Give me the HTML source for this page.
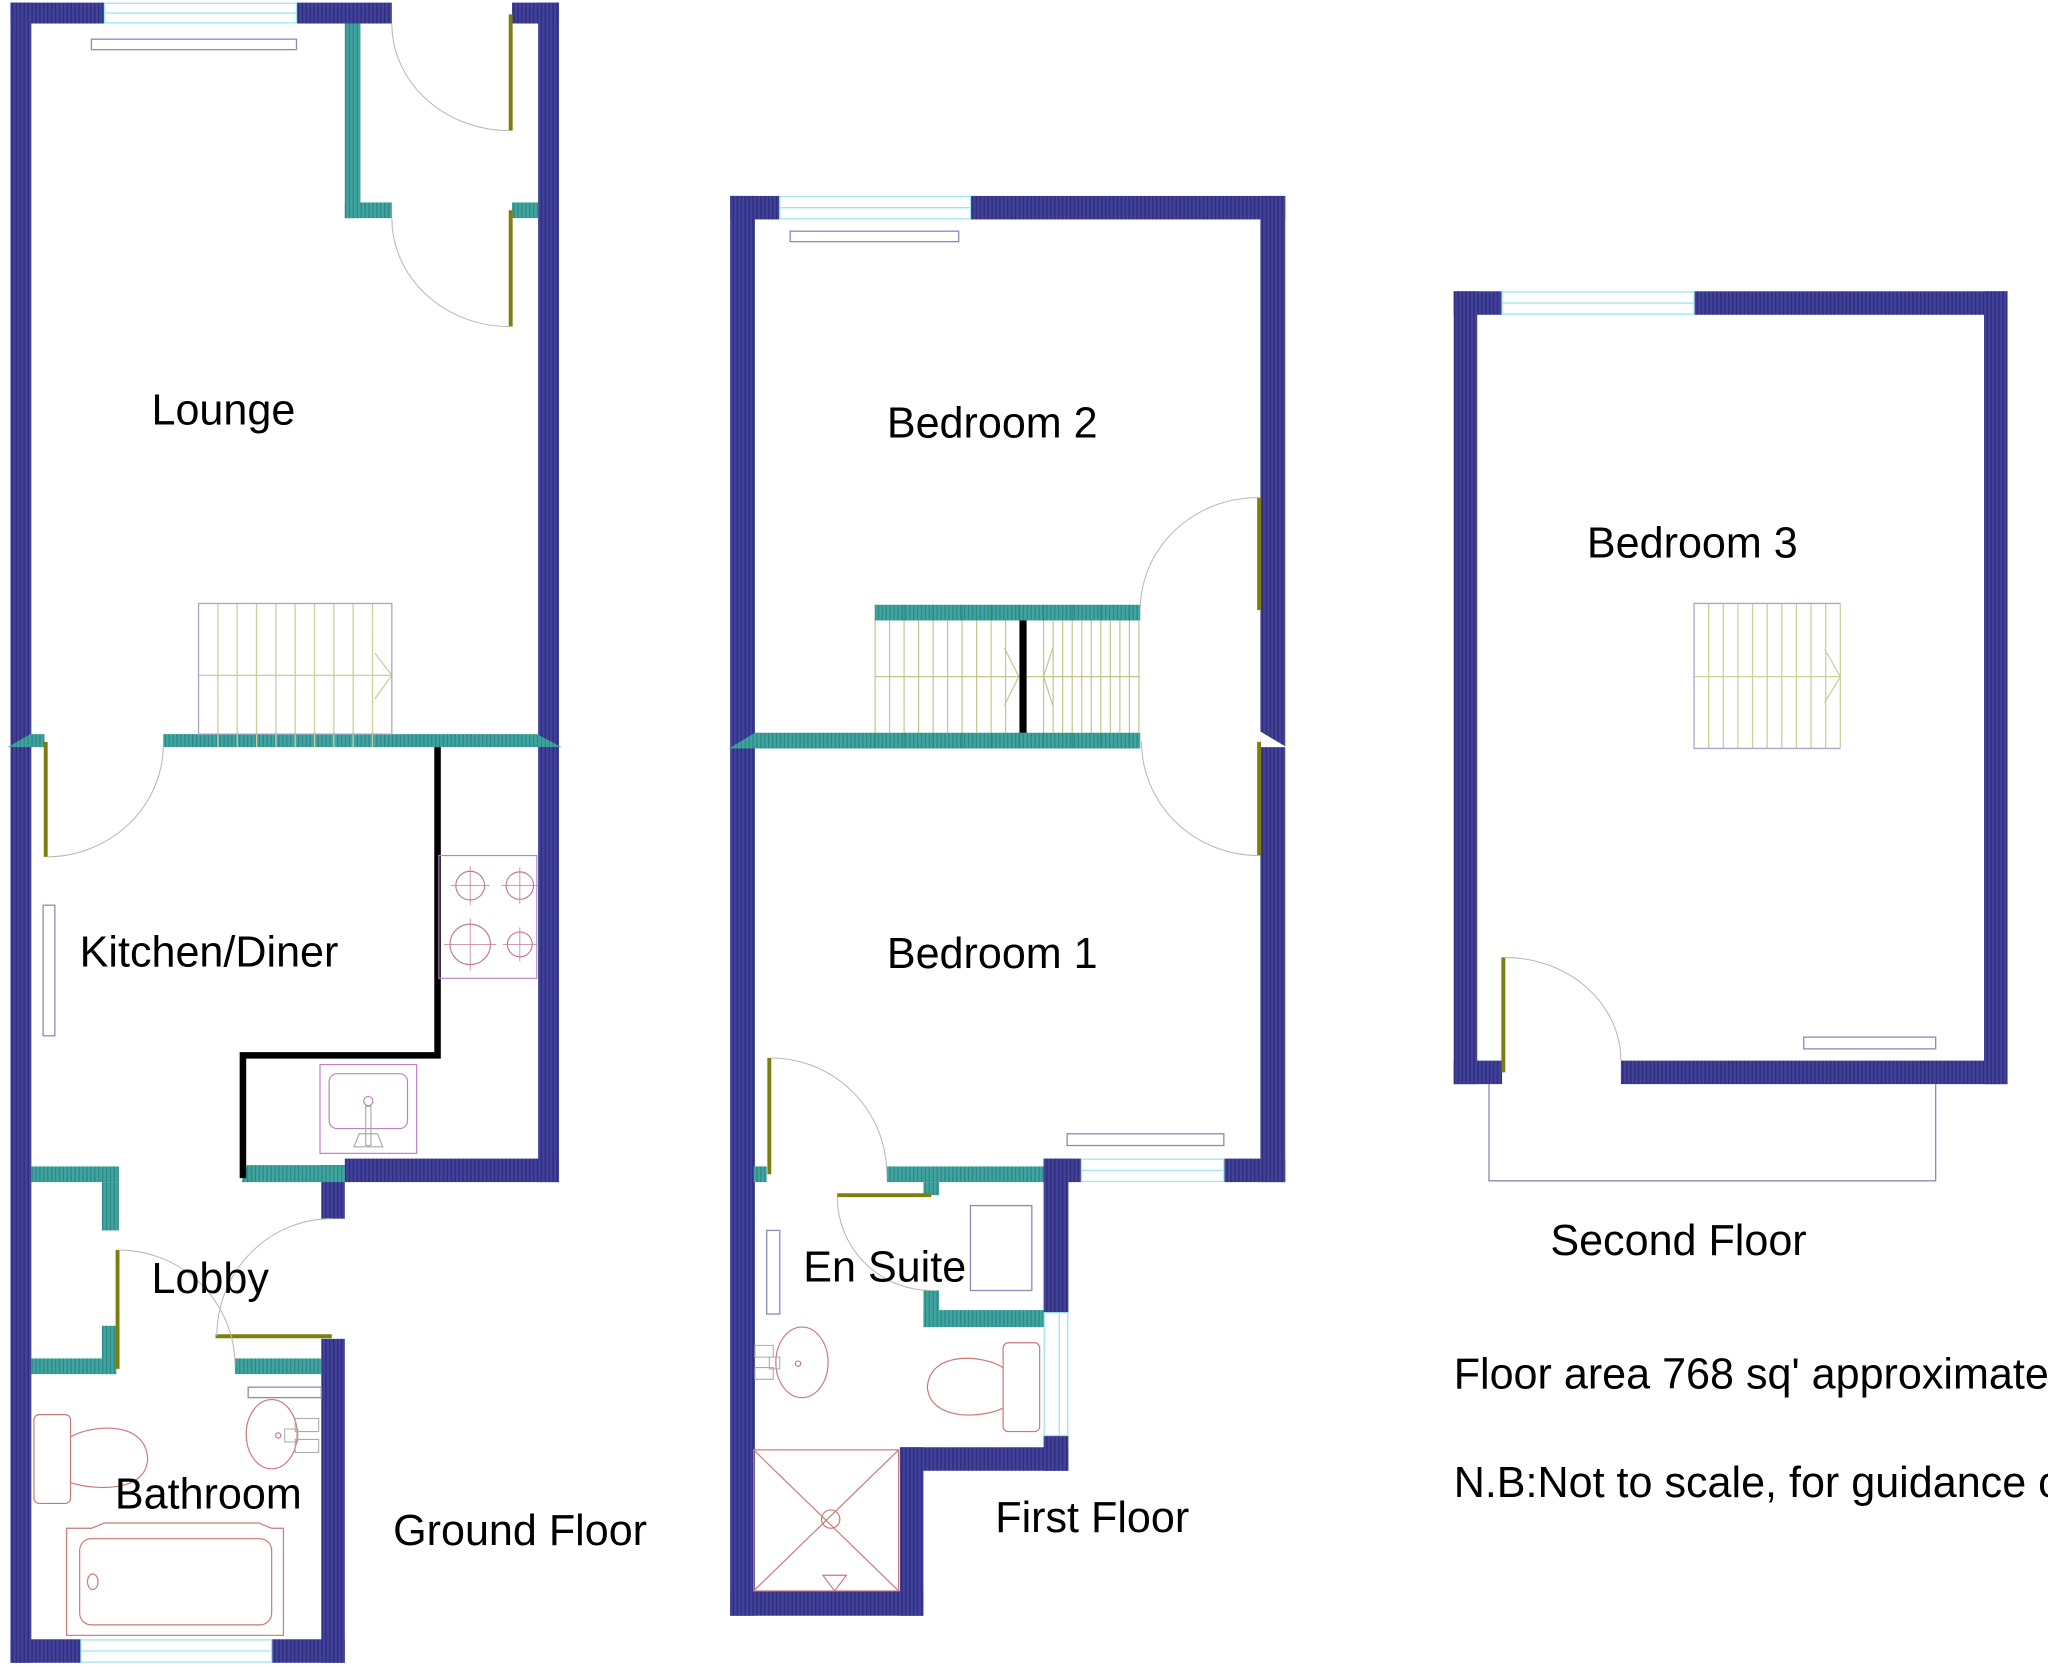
<!DOCTYPE html>
<html>
<head>
<meta charset="utf-8">
<style>
html,body{margin:0;padding:0;background:#fff;}
svg{display:block;}
text{font-family:"Liberation Sans",Arial,sans-serif;font-size:33px;fill:#000;}
</style>
</head>
<body>
<svg width="2048" height="1668" viewBox="0 0 1568 1277" preserveAspectRatio="none" xmlns="http://www.w3.org/2000/svg">
<defs>
<pattern id="nv" width="3" height="10" patternUnits="userSpaceOnUse"><rect width="3" height="10" fill="#42429c"/><rect width="1.1" height="10" fill="#2e2e7a"/></pattern>
<pattern id="tl" width="3" height="10" patternUnits="userSpaceOnUse"><rect width="3" height="10" fill="#40a5a0"/><rect width="1.1" height="10" fill="#2f8a86"/></pattern>
</defs>
<rect width="1568" height="1277" fill="#fff"/>

<!-- ================= GROUND FLOOR ================= -->
<g fill="url(#nv)">
<rect x="8" y="2" width="16" height="1271"/>
<rect x="8" y="2" width="72" height="16"/>
<rect x="227" y="2" width="73" height="16"/>
<rect x="392" y="2" width="36" height="16"/>
<rect x="412" y="2" width="16" height="903"/>
<rect x="264" y="887" width="164" height="18"/>
<rect x="246" y="892" width="18" height="41"/>
<rect x="246" y="1025" width="18" height="248"/>
<rect x="8" y="1255" width="54" height="18"/>
<rect x="208" y="1255" width="56" height="18"/>
</g>
<!-- windows -->
<g fill="#fff" stroke="#9fe6ee" stroke-width="1">
<rect x="80" y="2.5" width="147" height="15"/>
<line x1="80" y1="10" x2="227" y2="10"/>
<rect x="62" y="1255.5" width="146" height="17"/>
<line x1="62" y1="1264" x2="208" y2="1264"/>
</g>
<!-- radiators -->
<g fill="#fff" stroke="#8a8ab8" stroke-width="1">
<rect x="70" y="30" width="157" height="8"/>
<rect x="33" y="693" width="9" height="100"/>
<rect x="190" y="1062" width="56" height="8"/>
</g>
<!-- teal walls -->
<g fill="url(#tl)">
<polygon points="23,562 34,562 34,572 6,572"/>
<polygon points="125,562 411,562 430,572 125,572"/>
<rect x="264" y="18" width="12" height="149"/>
<rect x="264" y="155" width="36" height="12"/>
<rect x="392" y="155" width="20" height="12"/>
<polygon points="189,892 264,892 264,905 185,905"/>
<rect x="24" y="893" width="67" height="12"/>
<rect x="78" y="905" width="13" height="37"/>
<rect x="78" y="1015" width="11" height="37"/>
<rect x="24" y="1040" width="65" height="12"/>
<rect x="180" y="1040" width="66" height="12"/>
</g>
<!-- black kitchen wall -->
<polyline points="335,572 335,808 186,808 186,902" fill="none" stroke="#000" stroke-width="5"/>
<!-- stairs ground -->
<g stroke="#cfcf9c" stroke-width="1" fill="none">
<line x1="166.8" y1="462" x2="166.8" y2="572"/><line x1="181.6" y1="462" x2="181.6" y2="572"/>
<line x1="196.4" y1="462" x2="196.4" y2="572"/><line x1="211.2" y1="462" x2="211.2" y2="572"/>
<line x1="226" y1="462" x2="226" y2="572"/><line x1="240.8" y1="462" x2="240.8" y2="572"/>
<line x1="255.6" y1="462" x2="255.6" y2="572"/><line x1="270.4" y1="462" x2="270.4" y2="572"/>
<line x1="285.2" y1="462" x2="285.2" y2="572"/>
<line x1="152" y1="517" x2="300" y2="517"/>
<polyline points="287,500 300,517 287,535"/>
</g>
<rect x="152" y="462" width="148" height="100" fill="none" stroke="#a8a8cc" stroke-width="1"/>
<!-- doors ground -->
<g stroke="#7e7e0e" stroke-width="3">
<line x1="391" y1="11" x2="391" y2="100"/>
<line x1="391" y1="161" x2="391" y2="250"/>
<line x1="35" y1="568" x2="35" y2="656"/>
<line x1="90" y1="957" x2="90" y2="1048"/>
<line x1="165" y1="1023" x2="254" y2="1023"/>
</g>
<g stroke="#b8b8b8" stroke-width="0.8" fill="none">
<path d="M300,18 A90,82 0 0 0 390,100"/>
<path d="M300,167 A90,83 0 0 0 390,250"/>
<path d="M125,572 A90,86 0 0 1 36,656"/>
<path d="M91,957 A89,89 0 0 1 180,1046"/>
<path d="M166,1023 A88,90 0 0 1 253,933"/>
</g>
<!-- cooker -->
<g fill="none" stroke="#c47a9a" stroke-width="0.9">
<rect x="336" y="655" width="75" height="94" stroke="#b488c8"/>
<circle cx="360" cy="678" r="11"/><circle cx="398" cy="678" r="10.5"/>
<circle cx="360" cy="723" r="15.5"/><circle cx="398" cy="723" r="9.5"/>
<path d="M345,678h30M360,663v30M384,678h28M398,664v28M340,723h40M360,703v40M385,723h26M398,710v26" stroke-width="0.6"/>
</g>
<!-- sink -->
<g fill="none" stroke="#c080c8" stroke-width="0.9">
<rect x="245" y="815" width="74" height="68"/>
<rect x="252" y="822" width="60" height="42" rx="6"/>
<circle cx="282" cy="843" r="3.5"/>
<rect x="280" y="847" width="4" height="30" stroke="#aaa"/>
<path d="M271,878 l4,-10 h14 l4,10 z" stroke="#aaa"/>
</g>
<!-- bathroom fixtures -->
<g fill="none" stroke="#cc7777" stroke-width="0.9">
<rect x="26" y="1083" width="28" height="68" rx="4"/>
<path d="M54,1100 C72,1090 112,1088 113,1117 C112,1143 72,1141 54,1135"/>
<ellipse cx="208" cy="1098" rx="19.5" ry="26.5"/>
<circle cx="213" cy="1099" r="2"/>
<path d="M51,1252 V1170 H70 L80,1166 H198 L208,1170 H217 V1252 Z"/>
<rect x="61" y="1178" width="147" height="66" rx="9"/>
<ellipse cx="71" cy="1211" rx="4" ry="6"/>
</g>
<g fill="none" stroke="#aaa" stroke-width="0.8">
<path d="M226,1086 h18 v10 h-18 z M226,1102 h18 v10 h-18 z M218,1094 h10 v10 h-10 z"/>
</g>

<!-- ================= FIRST FLOOR ================= -->
<g fill="url(#nv)">
<rect x="559" y="150" width="19" height="1087"/>
<rect x="559" y="150" width="38" height="18"/>
<rect x="743" y="150" width="241" height="18"/>
<rect x="965" y="150" width="19" height="755"/>
<rect x="799" y="887" width="29" height="18"/>
<rect x="937" y="887" width="47" height="18"/>
<rect x="799" y="887" width="19" height="118"/>
<rect x="799" y="1099" width="19" height="27"/>
<rect x="689" y="1108" width="129" height="18"/>
<rect x="689" y="1108" width="18" height="129"/>
<rect x="559" y="1218" width="148" height="19"/>
</g>
<polygon points="965,560 985,572 965,572" fill="#fff"/>
<g fill="#fff" stroke="#9fe6ee" stroke-width="1">
<rect x="597" y="150.5" width="146" height="17"/>
<line x1="597" y1="159" x2="743" y2="159"/>
<rect x="828" y="887.5" width="109" height="17"/>
<line x1="828" y1="896" x2="937" y2="896"/>
<rect x="799.5" y="1005" width="18" height="94"/>
<line x1="811" y1="1005" x2="811" y2="1099"/>
</g>
<g fill="#fff" stroke="#8a8ab8" stroke-width="1">
<rect x="605" y="177" width="129" height="8"/>
<rect x="817" y="868" width="120" height="9"/>
<rect x="587" y="942" width="10" height="64"/>
<rect x="743" y="923" width="47" height="65"/>
</g>
<!-- teal first -->
<g fill="url(#tl)">
<polygon points="578,561 873,561 873,573 558,573"/>
<rect x="670" y="463" width="203" height="12"/>
<rect x="679" y="893" width="120" height="12"/>
<rect x="577" y="893" width="10" height="12"/>
<rect x="707" y="905" width="12" height="10"/>
<rect x="707" y="988" width="12" height="28"/>
<rect x="707" y="1003" width="92" height="13"/>
</g>
<!-- stairs first -->
<g stroke="#c4c48c" stroke-width="0.9" fill="none">
<path d="M670,475V561M681.1,475V561M692.2,475V561M703.3,475V561M714.4,475V561M725.5,475V561M736.6,475V561M747.7,475V561M758.8,475V561M769.9,475V561"/>
<path d="M799,475V561M806.3,475V561M813.6,475V561M820.9,475V561M828.2,475V561M835.5,475V561M842.8,475V561M850.1,475V561M857.4,475V561M864.7,475V561M872,475V561"/>
<line x1="670" y1="518" x2="873" y2="518"/>
<polyline points="769,496 780,518 769,540"/>
<polyline points="806,496 799,518 806,540"/>
</g>
<g stroke="#2a7a6c" stroke-width="0.7" fill="none" opacity="0.7">
<path d="M670,463V475M692.2,463V475M714.4,463V475M736.6,463V475M758.8,463V475M780,463V475M799,463V475M820.9,463V475M842.8,463V475M864.7,463V475"/>
<path d="M670,561V573M692.2,561V573M714.4,561V573M736.6,561V573M758.8,561V573M780,561V573M799,561V573M820.9,561V573M842.8,561V573M864.7,561V573"/>
</g>
<rect x="780.5" y="475" width="5.5" height="86" fill="#000"/>
<!-- doors first -->
<g stroke="#7e7e0e" stroke-width="3">
<line x1="964" y1="381" x2="964" y2="467"/>
<line x1="964" y1="568" x2="964" y2="655"/>
<line x1="589" y1="810" x2="589" y2="899"/>
<line x1="641" y1="915" x2="713" y2="915"/>
</g>
<g stroke="#b8b8b8" stroke-width="0.8" fill="none">
<path d="M963,381 A90,86 0 0 0 873,467"/>
<path d="M874,568 A90,87 0 0 0 963,655"/>
<path d="M590,810 A89,89 0 0 1 679,899"/>
<path d="M641,916 A72,72 0 0 0 713,988"/>
</g>
<!-- en suite fixtures -->
<g fill="none" stroke="#cc7777" stroke-width="0.9">
<ellipse cx="614" cy="1043" rx="20" ry="27"/>
<circle cx="611" cy="1044" r="2"/>
<rect x="768" y="1028" width="28" height="68" rx="4"/>
<path d="M768,1047 C752,1037 712,1034 710,1062 C712,1088 752,1086 768,1078"/>
<rect x="577" y="1110" width="111" height="108"/>
<path d="M577,1110 L688,1218 M688,1110 L577,1218"/>
<circle cx="636" cy="1163" r="7"/>
<path d="M630,1206 h18 l-9,12 z"/>
</g>
<g fill="none" stroke="#aaa" stroke-width="0.8">
<path d="M578,1030 h14 v9 h-14 z M578,1047 h14 v9 h-14 z M589,1039 h8 v9 h-8 z"/>
</g>

<!-- ================= SECOND FLOOR ================= -->
<g fill="url(#nv)">
<rect x="1113" y="223" width="18" height="607"/>
<rect x="1113" y="223" width="37" height="18"/>
<rect x="1297" y="223" width="240" height="18"/>
<rect x="1519" y="223" width="18" height="607"/>
<rect x="1113" y="812" width="37" height="18"/>
<rect x="1241" y="812" width="296" height="18"/>
</g>
<g fill="#fff" stroke="#9fe6ee" stroke-width="1">
<rect x="1150" y="223.5" width="147" height="17"/>
<line x1="1150" y1="232" x2="1297" y2="232"/>
</g>
<rect x="1381" y="794" width="101" height="9" fill="#fff" stroke="#8a8ab8" stroke-width="1"/>
<path d="M1140,830 V904 H1482 V830" fill="none" stroke="#8a8ab8" stroke-width="1"/>
<g stroke="#cfcf9c" stroke-width="1" fill="none">
<path d="M1308.2,462V573M1319.4,462V573M1330.6,462V573M1341.8,462V573M1353,462V573M1364.2,462V573M1375.4,462V573M1386.6,462V573M1397.8,462V573M1409,462V573"/>
<line x1="1297" y1="518" x2="1409" y2="518"/>
<polyline points="1397,497 1409,518 1397,538"/>
</g>
<path d="M1409,462 H1297 V573 H1409" fill="none" stroke="#a8a8cc" stroke-width="1"/>
<line x1="1151" y1="733" x2="1151" y2="821" stroke="#7e7e0e" stroke-width="3"/>
<path d="M1152,733 A89,79 0 0 1 1241,812" fill="none" stroke="#b8b8b8" stroke-width="0.8"/>

<!-- ================= LABELS ================= -->
<text x="116" y="325">Lounge</text>
<text x="61" y="740">Kitchen/Diner</text>
<text x="116" y="990">Lobby</text>
<text x="88" y="1155">Bathroom</text>
<text x="301" y="1183">Ground Floor</text>
<text x="679" y="335">Bedroom 2</text>
<text x="679" y="741">Bedroom 1</text>
<text x="615" y="981">En Suite</text>
<text x="762" y="1173">First Floor</text>
<text x="1215" y="427">Bedroom 3</text>
<text x="1187" y="961">Second Floor</text>
<text x="1113" y="1063">Floor area 768 sq' approximate</text>
<text x="1113" y="1146">N.B:Not to scale, for guidance only</text>
</svg>
</body>
</html>
